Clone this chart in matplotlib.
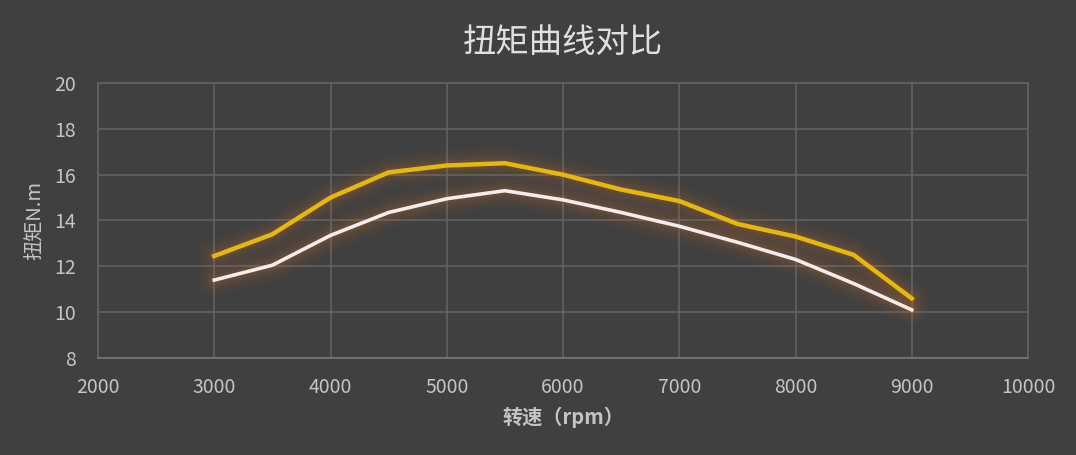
import matplotlib.pyplot as plt

plt.rcParams['font.family'] = ['Noto Sans CJK SC', 'DejaVu Sans']

rpm = [3000, 3500, 4000, 4500, 5000, 5500, 6000, 6500, 7000, 7500, 8000, 8500, 9000]
torque_yellow = [12.45, 13.4, 15.0, 16.1, 16.4, 16.5, 16.0, 15.35, 14.85, 13.85, 13.3, 12.5, 10.6]
torque_white = [11.4, 12.05, 13.35, 14.35, 14.95, 15.3, 14.9, 14.35, 13.75, 13.05, 12.3, 11.25, 10.1]

bg = '#404040'
grid_c = '#646464'
text_c = '#c4c4c4'

fig = plt.figure(figsize=(10.76, 4.55), dpi=100)
fig.set_facecolor(bg)
ax = fig.add_axes([0.0911, 0.2132, 0.8643, 0.6044])
ax.set_facecolor(bg)

# soft orange glow behind each line
for ys in (torque_yellow, torque_white):
    for lw, a in [(24, 0.04), (17, 0.06), (12, 0.08), (7, 0.11)]:
        ax.plot(rpm, ys, color='#c8702a', linewidth=lw, alpha=a,
                solid_capstyle='round', solid_joinstyle='round', zorder=2)

ax.plot(rpm, torque_yellow, color='#e6b80c', linewidth=3.2, zorder=4)
ax.plot(rpm, torque_white, color='#f2ecec', linewidth=2.6, zorder=4)

ax.set_xlim(2000, 10000)
ax.set_ylim(8, 20)
ax.set_xticks(range(2000, 10001, 1000))
ax.set_yticks(range(8, 21, 2))
ax.grid(True, color=grid_c, linewidth=1.1, zorder=1)
for s in ax.spines.values():
    s.set_color(grid_c)
    s.set_linewidth(1.1)
ax.spines['bottom'].set_color('#7a7a7a')
ax.tick_params(length=0, colors=text_c, labelsize=14)
ax.tick_params(axis='x', pad=14)
ax.tick_params(axis='y', pad=16)

ax.set_title('扭矩曲线对比', color='#e0e0e0', fontsize=24, pad=22)
ax.set_xlabel('转速（rpm）', color=text_c, fontsize=14.5, fontweight='bold', labelpad=6)
ax.set_ylabel('扭矩N.m', color=text_c, fontsize=14.5, labelpad=6)

fig.savefig('out.png', dpi=100, facecolor=bg)
